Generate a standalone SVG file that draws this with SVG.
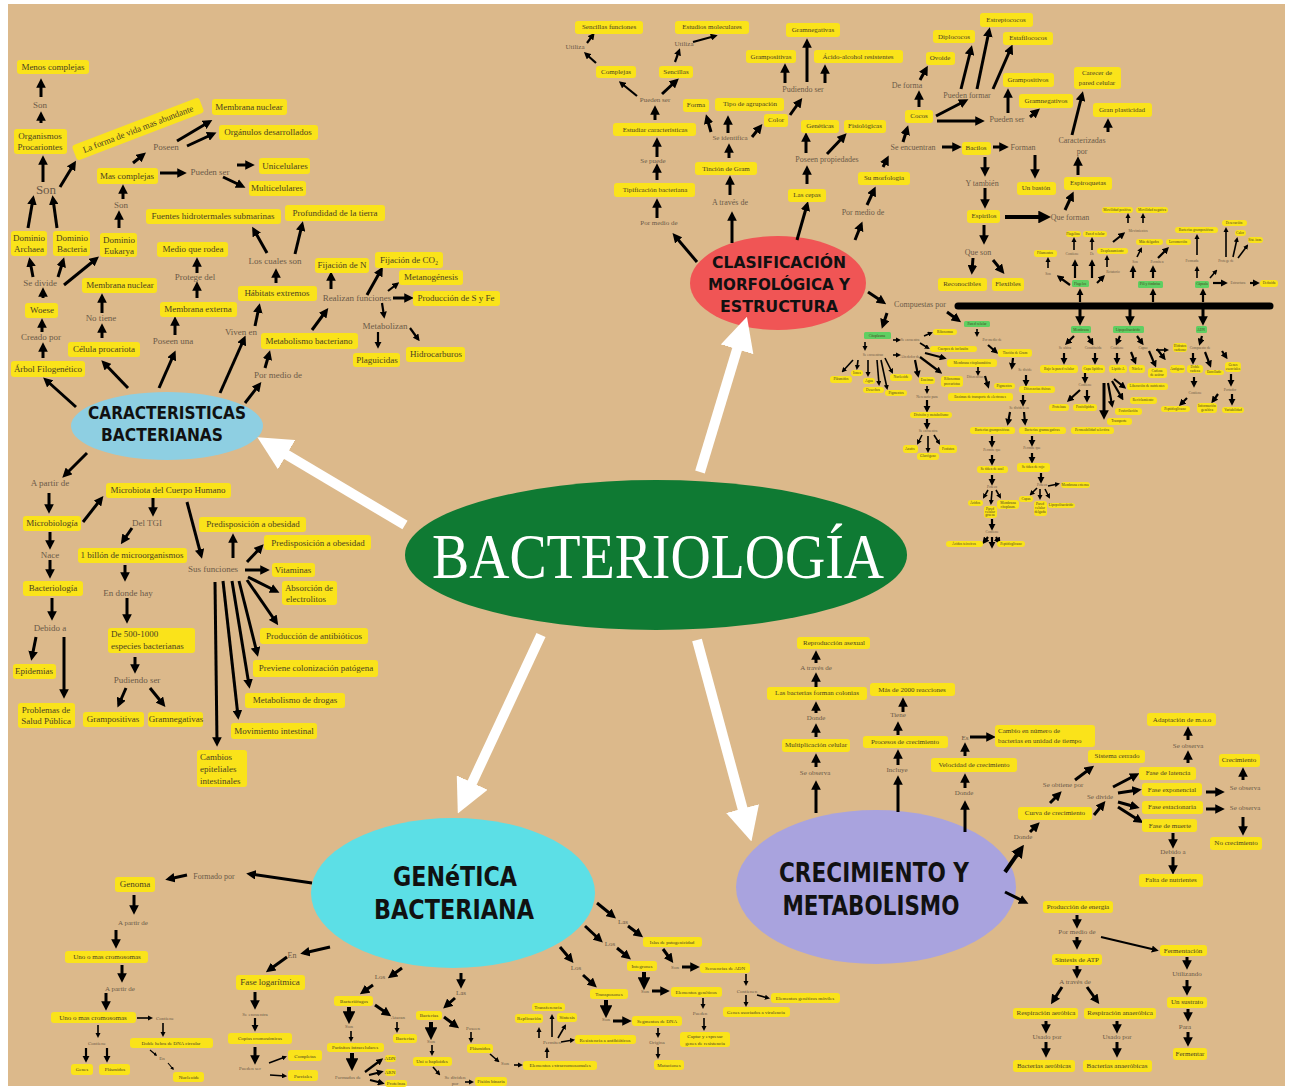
<svg xmlns="http://www.w3.org/2000/svg" width="1289" height="1089" viewBox="0 0 1289 1089">
<defs>
<marker id="ah" viewBox="0 0 10 10" refX="6" refY="5" markerWidth="3.2" markerHeight="3.2" orient="auto" markerUnits="strokeWidth"><path d="M0,0 L10,5 L0,10 z" fill="#000"/></marker>
<marker id="wh" viewBox="0 0 10 10" refX="5" refY="5" markerWidth="34" markerHeight="34" orient="auto" markerUnits="userSpaceOnUse"><path d="M0,0 L10,5 L0,10 z" fill="#fff"/></marker>
<style>
text{font-family:"Liberation Serif","DejaVu Serif",serif;text-anchor:middle;dominant-baseline:central}
.t{fill:#4a3f22}
.l{fill:#6b5a48}
rect.b{fill:#fae31a;rx:3px}
rect.g{fill:#5fcf62;rx:1.5px}
.a1,.a15,.a2,.a3,.a4{stroke:#000;fill:none;marker-end:url(#ah)}
.a1{stroke-width:1.1}
.a15{stroke-width:1.6}
.a2{stroke-width:2.2}
.a3{stroke-width:3}
.a4{stroke-width:4}
.w{stroke:#fff;stroke-width:10;marker-end:url(#wh)}
.hd{font-family:"DejaVu Sans","Liberation Sans",sans-serif;font-weight:bold;fill:#111}
.s9 text{font-size:9px}
.s8 text{font-size:8px}
.s7 text{font-size:7px}
.s6 text{font-size:6px}
.s5 text{font-size:5px}
.s4 text{font-size:3.6px}
.st{text-anchor:start}
</style>
</defs>
<rect width="1289" height="1089" fill="#fff"/>
<rect x="8" y="4" width="1277" height="1082" fill="#dcb98b"/>

<!-- main ellipses -->
<g id="bacteriologia">
<ellipse cx="656" cy="555" rx="251" ry="75" fill="#0f7a33"/>
<text x="658" y="556" font-size="64" fill="#fff" textLength="452" lengthAdjust="spacingAndGlyphs" style="font-family:'Liberation Serif',serif">BACTERIOLOGÍA</text>
</g>
<g id="caracteristicas">
<ellipse cx="167" cy="426" rx="96" ry="34" fill="#8ecfe2"/>
<text class="hd" x="167" y="413" font-size="17" textLength="158" lengthAdjust="spacingAndGlyphs">CARACTERISTICAS</text>
<text class="hd" x="162" y="435" font-size="17" textLength="122" lengthAdjust="spacingAndGlyphs">BACTERIANAS</text>
</g>
<g id="clasificacion">
<ellipse cx="778" cy="283" rx="88" ry="47" fill="#f05555"/>
<text class="hd" x="779" y="263" font-size="15" textLength="134" lengthAdjust="spacingAndGlyphs">CLASIFICACIÓN</text>
<text class="hd" x="779" y="285" font-size="15" textLength="142" lengthAdjust="spacingAndGlyphs">MORFOLÓGICA Y</text>
<text class="hd" x="779" y="307" font-size="15" textLength="118" lengthAdjust="spacingAndGlyphs">ESTRUCTURA</text>
</g>
<g id="genetica">
<ellipse cx="453" cy="893" rx="142" ry="75" fill="#5cdfe6"/>
<text class="hd" x="455" y="877" font-size="26" textLength="124" lengthAdjust="spacingAndGlyphs">GENéTICA</text>
<text class="hd" x="454" y="910" font-size="26" textLength="160" lengthAdjust="spacingAndGlyphs">BACTERIANA</text>
</g>
<g id="crecimiento">
<ellipse cx="876" cy="887" rx="140" ry="77" fill="#a9a3de"/>
<text class="hd" x="874" y="872" font-size="27" textLength="190" lengthAdjust="spacingAndGlyphs">CRECIMIENTO Y</text>
<text class="hd" x="871" y="905" font-size="27" textLength="177" lengthAdjust="spacingAndGlyphs">METABOLISMO</text>
</g>

<!-- connectors -->
<g id="connectors">
<line class="w" x1="405" y1="525" x2="272" y2="446"/>
<line class="w" x1="700" y1="472" x2="742" y2="333"/>
<line class="w" x1="541" y1="635" x2="465" y2="798"/>
<line class="w" x1="697" y1="640" x2="747" y2="825"/>
<!-- caracteristicas -->
<line class="a3" x1="41" y1="123" x2="41" y2="115"/>
<line class="a3" x1="41" y1="97" x2="41" y2="82"/>
<line class="a3" x1="43" y1="182" x2="43" y2="159"/>
<line class="a3" x1="60" y1="187" x2="74" y2="164"/>
<line class="a3" x1="133" y1="163" x2="143" y2="155"/>
<line class="a3" x1="177" y1="141" x2="209" y2="122"/>
<line class="a3" x1="187" y1="146" x2="213" y2="134"/>
<line class="a3" x1="160" y1="173" x2="183" y2="173"/>
<line class="a3" x1="237" y1="165" x2="251" y2="165"/>
<line class="a3" x1="223" y1="177" x2="242" y2="186"/>
<line class="a3" x1="123" y1="199" x2="123" y2="188"/>
<line class="a3" x1="119" y1="228" x2="119" y2="214"/>
<line class="a3" x1="28" y1="228" x2="33" y2="199"/>
<line class="a3" x1="57" y1="228" x2="53" y2="199"/>
<line class="a3" x1="33" y1="277" x2="30" y2="261"/>
<line class="a3" x1="58" y1="277" x2="63" y2="261"/>
<line class="a3" x1="64" y1="285" x2="96" y2="259"/>
<line class="a3" x1="43" y1="298" x2="43" y2="291"/>
<line class="a3" x1="42" y1="332" x2="42" y2="322"/>
<line class="a3" x1="43" y1="358" x2="43" y2="346"/>
<line class="a3" x1="102" y1="313" x2="102" y2="297"/>
<line class="a3" x1="102" y1="338" x2="102" y2="327"/>
<line class="a3" x1="197" y1="273" x2="197" y2="261"/>
<line class="a3" x1="197" y1="298" x2="197" y2="285"/>
<line class="a3" x1="175" y1="335" x2="175" y2="320"/>
<line class="a3" x1="267" y1="253" x2="254" y2="230"/>
<line class="a3" x1="295" y1="254" x2="302" y2="225"/>
<line class="a3" x1="276" y1="283" x2="276" y2="272"/>
<line class="a3" x1="255" y1="326" x2="259" y2="307"/>
<line class="a3" x1="265" y1="368" x2="269" y2="354"/>
<line class="a3" x1="312" y1="330" x2="326" y2="311"/>
<line class="a3" x1="331" y1="289" x2="331" y2="275"/>
<line class="a3" x1="367" y1="295" x2="381" y2="270"/>
<line class="a2" x1="388" y1="291" x2="397" y2="284"/>
<line class="a3" x1="393" y1="298" x2="410" y2="298"/>
<line class="a2" x1="382" y1="303" x2="384" y2="316"/>
<line class="a2" x1="378" y1="332" x2="378" y2="346"/>
<line class="a2" x1="410" y1="328" x2="418" y2="339"/>
<line class="a3" x1="76" y1="407" x2="46" y2="380"/>
<line class="a3" x1="128" y1="388" x2="104" y2="363"/>
<line class="a3" x1="159" y1="388" x2="174" y2="354"/>
<line class="a3" x1="220" y1="393" x2="244" y2="339"/>
<line class="a3" x1="245" y1="403" x2="259" y2="385"/>
<line class="a3" x1="87" y1="453" x2="65" y2="475"/>
<!-- lower left -->
<line class="a3" x1="49" y1="493" x2="49" y2="510"/>
<line class="a3" x1="83" y1="522" x2="101" y2="499"/>
<line class="a3" x1="153" y1="498" x2="153" y2="513"/>
<line class="a3" x1="132" y1="528" x2="123" y2="541"/>
<line class="a3" x1="125" y1="565" x2="125" y2="578"/>
<line class="a3" x1="127" y1="598" x2="127" y2="620"/>
<line class="a3" x1="135" y1="657" x2="135" y2="670"/>
<line class="a3" x1="126" y1="688" x2="119" y2="704"/>
<line class="a3" x1="150" y1="688" x2="163" y2="704"/>
<line class="a3" x1="50" y1="532" x2="50" y2="546"/>
<line class="a3" x1="50" y1="560" x2="50" y2="575"/>
<line class="a3" x1="52" y1="598" x2="52" y2="617"/>
<line class="a3" x1="36" y1="637" x2="32" y2="657"/>
<line class="a3" x1="64" y1="637" x2="64" y2="695"/>
<line class="a3" x1="187" y1="502" x2="201" y2="555"/>
<line class="a3" x1="233" y1="558" x2="233" y2="537"/>
<line class="a3" x1="247" y1="562" x2="261" y2="547"/>
<line class="a3" x1="245" y1="570" x2="266" y2="570"/>
<line class="a3" x1="248" y1="577" x2="276" y2="591"/>
<line class="a3" x1="247" y1="580" x2="276" y2="622"/>
<line class="a3" x1="239" y1="581" x2="257" y2="653"/>
<line class="a3" x1="232" y1="581" x2="249" y2="685"/>
<line class="a3" x1="223" y1="581" x2="238" y2="716"/>
<line class="a3" x1="215" y1="582" x2="217" y2="743"/>
<!-- clasificacion top -->
<line class="a3" x1="697" y1="262" x2="675" y2="236"/>
<line class="a3" x1="657" y1="218" x2="657" y2="202"/>
<line class="a3" x1="657" y1="180" x2="657" y2="167"/>
<line class="a3" x1="657" y1="157" x2="657" y2="141"/>
<line class="a3" x1="655" y1="120" x2="655" y2="109"/>
<line class="a2" x1="637" y1="96" x2="621" y2="83"/>
<line class="a3" x1="662" y1="94" x2="676" y2="81"/>
<line class="a2" x1="596" y1="63" x2="586" y2="54"/>
<line class="a2" x1="587" y1="43" x2="593" y2="35"/>
<line class="a2" x1="675" y1="62" x2="679" y2="51"/>
<line class="a2" x1="693" y1="42" x2="715" y2="36"/>
<line class="a3" x1="732" y1="243" x2="732" y2="215"/>
<line class="a3" x1="730" y1="195" x2="730" y2="179"/>
<line class="a3" x1="729" y1="158" x2="729" y2="147"/>
<line class="a3" x1="711" y1="132" x2="707" y2="118"/>
<line class="a3" x1="728" y1="133" x2="728" y2="119"/>
<line class="a3" x1="752" y1="137" x2="760" y2="127"/>
<line class="a3" x1="790" y1="115" x2="800" y2="101"/>
<line class="a3" x1="785" y1="83" x2="785" y2="67"/>
<line class="a3" x1="807" y1="82" x2="807" y2="42"/>
<line class="a3" x1="825" y1="83" x2="825" y2="68"/>
<line class="a3" x1="797" y1="240" x2="807" y2="205"/>
<line class="a3" x1="807" y1="184" x2="807" y2="169"/>
<line class="a3" x1="806" y1="153" x2="806" y2="136"/>
<line class="a3" x1="827" y1="154" x2="844" y2="136"/>
<line class="a3" x1="855" y1="240" x2="861" y2="225"/>
<line class="a3" x1="867" y1="205" x2="874" y2="190"/>
<line class="a3" x1="883" y1="167" x2="887" y2="159"/>
<line class="a3" x1="903" y1="142" x2="907" y2="129"/>
<line class="a3" x1="919" y1="107" x2="919" y2="94"/>
<line class="a3" x1="920" y1="80" x2="926" y2="69"/>
<line class="a3" x1="936" y1="116" x2="965" y2="101"/>
<line class="a3" x1="961" y1="89" x2="971" y2="49"/>
<line class="a3" x1="977" y1="89" x2="989" y2="31"/>
<line class="a3" x1="993" y1="89" x2="1011" y2="48"/>
<line class="a3" x1="937" y1="121" x2="981" y2="121"/>
<line class="a3" x1="1008" y1="113" x2="1008" y2="92"/>
<line class="a3" x1="1030" y1="117" x2="1037" y2="111"/>
<line class="a3" x1="1072" y1="135" x2="1082" y2="95"/>
<line class="a3" x1="1108" y1="132" x2="1108" y2="122"/>
<line class="a3" x1="1078" y1="175" x2="1078" y2="160"/>
<line class="a3" x1="942" y1="147" x2="958" y2="147"/>
<line class="a3" x1="993" y1="147" x2="1005" y2="147"/>
<line class="a3" x1="1035" y1="155" x2="1035" y2="175"/>
<line class="a3" x1="985" y1="157" x2="985" y2="173"/>
<line class="a3" x1="985" y1="188" x2="985" y2="205"/>
<line class="a4" x1="1005" y1="217" x2="1046" y2="217"/>
<line class="a3" x1="1065" y1="210" x2="1072" y2="195"/>
<line class="a3" x1="984" y1="225" x2="984" y2="241"/>
<line class="a3" x1="973" y1="258" x2="972" y2="271"/>
<line class="a3" x1="993" y1="260" x2="1002" y2="271"/>
<line class="a3" x1="868" y1="292" x2="883" y2="302"/>
<line class="a3" x1="947" y1="312" x2="958" y2="320"/>
<line class="a3" x1="887" y1="313" x2="883" y2="325"/>
<line x1="958" y1="306" x2="1270" y2="306" stroke="#000" stroke-width="7" stroke-linecap="round"/>
<line class="a2" x1="1080" y1="302" x2="1080" y2="291"/>
<line class="a2" x1="1153" y1="302" x2="1153" y2="291"/>
<line class="a2" x1="1203" y1="302" x2="1203" y2="291"/>
<line class="a3" x1="1080" y1="309" x2="1080" y2="322"/>
<line class="a3" x1="1130" y1="309" x2="1130" y2="322"/>
<line class="a3" x1="1203" y1="309" x2="1203" y2="322"/>
<!-- dense above bar -->
<line class="a2" x1="1070" y1="285" x2="1059" y2="277"/>
<line class="a15" x1="1048" y1="268" x2="1048" y2="259"/>
<line class="a2" x1="1075" y1="278" x2="1075" y2="262"/>
<line class="a2" x1="1092" y1="278" x2="1092" y2="262"/>
<line class="a2" x1="1097" y1="283" x2="1103" y2="277"/>
<line class="a15" x1="1074" y1="250" x2="1074" y2="239"/>
<line class="a15" x1="1092" y1="250" x2="1092" y2="239"/>
<line class="a15" x1="1107" y1="267" x2="1107" y2="257"/>
<line class="a2" x1="1113" y1="242" x2="1123" y2="234"/>
<line class="a15" x1="1128" y1="223" x2="1128" y2="215"/>
<line class="a15" x1="1143" y1="223" x2="1143" y2="215"/>
<line class="a2" x1="1133" y1="278" x2="1133" y2="268"/>
<line class="a2" x1="1153" y1="278" x2="1153" y2="268"/>
<line class="a15" x1="1137" y1="257" x2="1141" y2="249"/>
<line class="a2" x1="1158" y1="258" x2="1167" y2="249"/>
<line class="a2" x1="1213" y1="283" x2="1225" y2="283"/>
<line class="a2" x1="1250" y1="283" x2="1257" y2="283"/>
<line class="a15" x1="1197" y1="278" x2="1197" y2="268"/>
<line class="a15" x1="1197" y1="255" x2="1197" y2="236"/>
<line class="a15" x1="1210" y1="278" x2="1216" y2="271"/>
<line class="a15" x1="1226" y1="257" x2="1226" y2="229"/>
<line class="a15" x1="1233" y1="257" x2="1237" y2="239"/>
<line class="a15" x1="1238" y1="258" x2="1247" y2="246"/>
<!-- dense below bar -->
<line class="a15" x1="893" y1="340" x2="899" y2="340"/>
<line class="a15" x1="924" y1="336" x2="931" y2="333"/>
<line class="a15" x1="920" y1="343" x2="928" y2="348"/>
<line class="a15" x1="865" y1="342" x2="865" y2="349"/>
<line class="a15" x1="853" y1="360" x2="843" y2="371"/>
<line class="a15" x1="858" y1="360" x2="857" y2="368"/>
<line class="a15" x1="868" y1="360" x2="868" y2="375"/>
<line class="a15" x1="877" y1="360" x2="879" y2="384"/>
<line class="a15" x1="881" y1="360" x2="887" y2="388"/>
<line class="a15" x1="885" y1="358" x2="892" y2="372"/>
<line class="a15" x1="893" y1="355" x2="899" y2="355"/>
<line class="a2" x1="915" y1="360" x2="918" y2="375"/>
<line class="a2" x1="920" y1="357" x2="940" y2="372"/>
<line class="a2" x1="925" y1="353" x2="944" y2="358"/>
<line class="a15" x1="927" y1="386" x2="927" y2="392"/>
<line class="a2" x1="927" y1="400" x2="927" y2="410"/>
<line class="a2" x1="927" y1="419" x2="927" y2="427"/>
<line class="a15" x1="922" y1="435" x2="918" y2="443"/>
<line class="a15" x1="928" y1="436" x2="928" y2="451"/>
<line class="a15" x1="934" y1="435" x2="939" y2="443"/>
<line class="a15" x1="977" y1="329" x2="977" y2="335"/>
<line class="a2" x1="988" y1="345" x2="996" y2="352"/>
<line class="a15" x1="978" y1="367" x2="978" y2="374"/>
<line class="a2" x1="985" y1="376" x2="988" y2="386"/>
<line class="a2" x1="1013" y1="358" x2="1012" y2="367"/>
<line class="a2" x1="1026" y1="375" x2="1026" y2="384"/>
<line class="a2" x1="1023" y1="395" x2="1023" y2="404"/>
<line class="a2" x1="1010" y1="412" x2="1008" y2="423"/>
<line class="a2" x1="1024" y1="412" x2="1025" y2="423"/>
<line class="a2" x1="992" y1="436" x2="992" y2="445"/>
<line class="a2" x1="992" y1="455" x2="992" y2="463"/>
<line class="a2" x1="992" y1="475" x2="992" y2="483"/>
<line class="a15" x1="988" y1="490" x2="984" y2="497"/>
<line class="a15" x1="992" y1="491" x2="991" y2="503"/>
<line class="a15" x1="996" y1="490" x2="1000" y2="497"/>
<line class="a2" x1="992" y1="519" x2="992" y2="528"/>
<line class="a2" x1="988" y1="537" x2="984" y2="542"/>
<line class="a2" x1="992" y1="537" x2="992" y2="546"/>
<line class="a2" x1="996" y1="537" x2="999" y2="542"/>
<line class="a2" x1="1032" y1="436" x2="1032" y2="444"/>
<line class="a2" x1="1032" y1="453" x2="1032" y2="461"/>
<line class="a2" x1="1041" y1="473" x2="1041" y2="481"/>
<line class="a15" x1="1037" y1="488" x2="1031" y2="494"/>
<line class="a15" x1="1040" y1="489" x2="1040" y2="498"/>
<line class="a15" x1="1045" y1="489" x2="1049" y2="497"/>
<line class="a15" x1="1048" y1="486" x2="1058" y2="484"/>
<line class="a2" x1="1074" y1="336" x2="1067" y2="343"/>
<line class="a2" x1="1088" y1="336" x2="1092" y2="343"/>
<line class="a2" x1="1064" y1="353" x2="1064" y2="362"/>
<line class="a2" x1="1095" y1="353" x2="1095" y2="362"/>
<line class="a2" x1="1085" y1="373" x2="1085" y2="381"/>
<line class="a2" x1="1080" y1="390" x2="1069" y2="400"/>
<line class="a2" x1="1087" y1="390" x2="1087" y2="400"/>
<line class="a3" x1="1104" y1="383" x2="1104" y2="416"/>
<line class="a2" x1="1108" y1="383" x2="1112" y2="405"/>
<line class="a2" x1="1112" y1="381" x2="1122" y2="398"/>
<line class="a2" x1="1114" y1="379" x2="1124" y2="387"/>
<line class="a2" x1="1120" y1="336" x2="1117" y2="343"/>
<line class="a2" x1="1137" y1="336" x2="1142" y2="343"/>
<line class="a2" x1="1117" y1="353" x2="1117" y2="362"/>
<line class="a2" x1="1131" y1="352" x2="1135" y2="362"/>
<line class="a2" x1="1149" y1="351" x2="1155" y2="365"/>
<line class="a15" x1="1156" y1="350" x2="1167" y2="350"/>
<line class="a2" x1="1157" y1="349" x2="1164" y2="358"/>
<line class="a2" x1="1202" y1="336" x2="1200" y2="343"/>
<line class="a2" x1="1193" y1="353" x2="1193" y2="362"/>
<line class="a2" x1="1205" y1="352" x2="1210" y2="365"/>
<line class="a2" x1="1222" y1="351" x2="1226" y2="357"/>
<line class="a2" x1="1194" y1="377" x2="1194" y2="385"/>
<line class="a2" x1="1187" y1="398" x2="1181" y2="404"/>
<line class="a2" x1="1231" y1="374" x2="1231" y2="384"/>
<line class="a2" x1="1218" y1="394" x2="1213" y2="401"/>
<line class="a2" x1="1232" y1="394" x2="1232" y2="403"/>
<!-- crecimiento -->
<line class="a3" x1="816" y1="663" x2="816" y2="654"/>
<line class="a3" x1="816" y1="687" x2="816" y2="676"/>
<line class="a3" x1="816" y1="713" x2="816" y2="705"/>
<line class="a3" x1="816" y1="737" x2="816" y2="727"/>
<line class="a3" x1="816" y1="767" x2="816" y2="757"/>
<line class="a3" x1="816" y1="813" x2="816" y2="784"/>
<line class="a3" x1="903" y1="712" x2="903" y2="701"/>
<line class="a3" x1="898" y1="735" x2="898" y2="725"/>
<line class="a3" x1="898" y1="765" x2="898" y2="753"/>
<line class="a3" x1="898" y1="812" x2="898" y2="779"/>
<line class="a3" x1="965" y1="756" x2="965" y2="746"/>
<line class="a3" x1="970" y1="737" x2="992" y2="737"/>
<line class="a3" x1="965" y1="788" x2="965" y2="777"/>
<line class="a3" x1="965" y1="832" x2="965" y2="804"/>
<line class="a4" x1="1005" y1="872" x2="1021" y2="849"/>
<line class="a3" x1="1030" y1="832" x2="1037" y2="825"/>
<line class="a3" x1="1050" y1="803" x2="1059" y2="794"/>
<line class="a3" x1="1075" y1="780" x2="1091" y2="768"/>
<line class="a3" x1="1094" y1="815" x2="1103" y2="804"/>
<line class="a3" x1="1113" y1="787" x2="1136" y2="775"/>
<line class="a3" x1="1118" y1="793" x2="1138" y2="790"/>
<line class="a3" x1="1118" y1="802" x2="1136" y2="807"/>
<line class="a3" x1="1118" y1="807" x2="1140" y2="821"/>
<line class="a3" x1="1188" y1="763" x2="1188" y2="754"/>
<line class="a3" x1="1188" y1="740" x2="1188" y2="730"/>
<line class="a3" x1="1206" y1="792" x2="1221" y2="792"/>
<line class="a3" x1="1243" y1="780" x2="1243" y2="771"/>
<line class="a3" x1="1206" y1="809" x2="1221" y2="809"/>
<line class="a3" x1="1243" y1="817" x2="1243" y2="832"/>
<line class="a3" x1="1173" y1="833" x2="1173" y2="845"/>
<line class="a3" x1="1173" y1="857" x2="1173" y2="871"/>
<line class="a3" x1="1005" y1="892" x2="1025" y2="902"/>
<line class="a3" x1="1077" y1="915" x2="1077" y2="925"/>
<line class="a3" x1="1077" y1="937" x2="1077" y2="946"/>
<line class="a2" x1="1101" y1="937" x2="1156" y2="950"/>
<line class="a3" x1="1077" y1="966" x2="1077" y2="975"/>
<line class="a3" x1="1062" y1="987" x2="1053" y2="1001"/>
<line class="a3" x1="1087" y1="987" x2="1097" y2="1001"/>
<line class="a3" x1="1046" y1="1021" x2="1046" y2="1030"/>
<line class="a3" x1="1046" y1="1042" x2="1046" y2="1054"/>
<line class="a3" x1="1117" y1="1021" x2="1117" y2="1030"/>
<line class="a3" x1="1117" y1="1042" x2="1117" y2="1054"/>
<line class="a3" x1="1187" y1="957" x2="1187" y2="966"/>
<line class="a3" x1="1187" y1="980" x2="1187" y2="992"/>
<line class="a3" x1="1188" y1="1009" x2="1188" y2="1018"/>
<line class="a3" x1="1188" y1="1032" x2="1188" y2="1043"/>
<!-- genetica -->
<line class="a3" x1="312" y1="883" x2="250" y2="874"/>
<line class="a3" x1="187" y1="875" x2="169" y2="879"/>
<line class="a3" x1="134" y1="895" x2="134" y2="911"/>
<line class="a3" x1="116" y1="930" x2="116" y2="945"/>
<line class="a3" x1="122" y1="965" x2="122" y2="979"/>
<line class="a3" x1="106" y1="993" x2="106" y2="1007"/>
<line class="a15" x1="137" y1="1018" x2="151" y2="1018"/>
<line class="a15" x1="163" y1="1023" x2="163" y2="1035"/>
<line class="a1" x1="150" y1="1050" x2="156" y2="1055"/>
<line class="a1" x1="168" y1="1063" x2="173" y2="1069"/>
<line class="a15" x1="98" y1="1025" x2="98" y2="1036"/>
<line class="a2" x1="86" y1="1048" x2="86" y2="1060"/>
<line class="a2" x1="107" y1="1048" x2="107" y2="1060"/>
<line class="a3" x1="330" y1="947" x2="304" y2="953"/>
<line class="a3" x1="287" y1="957" x2="269" y2="970"/>
<line class="a3" x1="255" y1="992" x2="255" y2="1006"/>
<line class="a2" x1="255" y1="1018" x2="255" y2="1029"/>
<line class="a3" x1="255" y1="1047" x2="255" y2="1061"/>
<line class="a15" x1="269" y1="1063" x2="285" y2="1057"/>
<line class="a15" x1="270" y1="1075" x2="285" y2="1076"/>
<line class="a3" x1="402" y1="968" x2="391" y2="976"/>
<line class="a3" x1="373" y1="985" x2="363" y2="992"/>
<line class="a4" x1="349" y1="1007" x2="349" y2="1019"/>
<line class="a15" x1="351" y1="1031" x2="351" y2="1040"/>
<line class="a3" x1="375" y1="1005" x2="388" y2="1014"/>
<line class="a15" x1="397" y1="1022" x2="397" y2="1031"/>
<line class="a4" x1="352" y1="1053" x2="352" y2="1066"/>
<line class="a2" x1="365" y1="1072" x2="381" y2="1060"/>
<line class="a2" x1="369" y1="1075" x2="381" y2="1072"/>
<line class="a2" x1="370" y1="1080" x2="382" y2="1083"/>
<line class="a3" x1="461" y1="973" x2="461" y2="985"/>
<line class="a3" x1="455" y1="998" x2="446" y2="1006"/>
<line class="a4" x1="431" y1="1022" x2="431" y2="1035"/>
<line class="a15" x1="432" y1="1045" x2="432" y2="1054"/>
<line class="a15" x1="433" y1="1067" x2="439" y2="1074"/>
<line class="a15" x1="465" y1="1082" x2="472" y2="1082"/>
<line class="a3" x1="444" y1="1017" x2="456" y2="1026"/>
<line class="a15" x1="471" y1="1032" x2="471" y2="1041"/>
<line class="a15" x1="490" y1="1054" x2="498" y2="1061"/>
<line class="a15" x1="514" y1="1065" x2="521" y2="1065"/>
<line class="a15" x1="547" y1="1058" x2="547" y2="1049"/>
<line class="a15" x1="539" y1="1038" x2="539" y2="1029"/>
<line class="a15" x1="552" y1="1037" x2="552" y2="1016"/>
<line class="a15" x1="558" y1="1038" x2="565" y2="1026"/>
<line class="a15" x1="561" y1="1042" x2="573" y2="1040"/>
<line class="a3" x1="560" y1="947" x2="571" y2="960"/>
<line class="a3" x1="583" y1="975" x2="594" y2="985"/>
<line class="a4" x1="606" y1="1000" x2="606" y2="1013"/>
<line class="a3" x1="613" y1="1021" x2="628" y2="1021"/>
<line class="a15" x1="658" y1="1028" x2="658" y2="1036"/>
<line class="a15" x1="658" y1="1047" x2="658" y2="1057"/>
<line class="a3" x1="585" y1="926" x2="600" y2="940"/>
<line class="a3" x1="617" y1="948" x2="628" y2="957"/>
<line class="a4" x1="644" y1="972" x2="644" y2="985"/>
<line class="a3" x1="652" y1="991" x2="666" y2="991"/>
<line class="a15" x1="703" y1="998" x2="703" y2="1007"/>
<line class="a15" x1="704" y1="1018" x2="704" y2="1029"/>
<line class="a3" x1="597" y1="903" x2="613" y2="916"/>
<line class="a3" x1="628" y1="926" x2="640" y2="935"/>
<line class="a3" x1="663" y1="949" x2="671" y2="960"/>
<line class="a3" x1="682" y1="967" x2="696" y2="967"/>
<line class="a15" x1="746" y1="974" x2="746" y2="984"/>
<line class="a15" x1="746" y1="995" x2="746" y2="1005"/>
<line class="a15" x1="757" y1="995" x2="768" y2="998"/>
</g>

<!-- CARACTERISTICAS nodes -->
<g class="s9">
<g id="c_menos"><rect class="b" x="17" y="60" width="72" height="14"/><text class="t" x="53" y="67">Menos complejas</text></g>
<g id="c_son1"><text class="l" x="40" y="105">Son</text></g>
<g id="c_org"><rect class="b" x="14" y="129" width="53" height="25"/><text class="t" x="40" y="136">Organismos</text><text class="t" x="40" y="147">Procariontes</text></g>
<g id="c_forma" transform="rotate(-21 138 129)"><rect class="b" x="70" y="121" width="136" height="16"/><text class="t" x="138" y="129">La forma de vida mas abundante</text></g>
<g id="c_son2"><text class="l" x="46" y="189" style="font-size:13px">Son</text></g>
<g id="c_poseen"><text class="l" x="166" y="147">Poseen</text></g>
<g id="c_memnuc1"><rect class="b" x="212" y="99" width="75" height="16"/><text class="t" x="249" y="107">Membrana nuclear</text></g>
<g id="c_organ"><rect class="b" x="219" y="125" width="99" height="15"/><text class="t" x="268" y="132">Orgánulos desarrollados</text></g>
<g id="c_mas"><rect class="b" x="97" y="168" width="61" height="16"/><text class="t" x="127" y="176">Mas complejas</text></g>
<g id="c_pueden"><text class="l" x="210" y="172">Pueden ser</text></g>
<g id="c_uni"><rect class="b" x="259" y="158" width="51" height="16"/><text class="t" x="285" y="166">Unicelulares</text></g>
<g id="c_multi"><rect class="b" x="249" y="181" width="57" height="15"/><text class="t" x="277" y="188">Multicelulares</text></g>
<g id="c_son3"><text class="l" x="121" y="205">Son</text></g>
<g id="c_arch"><rect class="b" x="11" y="231" width="36" height="25"/><text class="t" x="29" y="238">Dominio</text><text class="t" x="29" y="249">Archaea</text></g>
<g id="c_bact"><rect class="b" x="53" y="231" width="37" height="25"/><text class="t" x="72" y="238">Dominio</text><text class="t" x="72" y="249">Bacteria</text></g>
<g id="c_euk"><rect class="b" x="100" y="233" width="37" height="24"/><text class="t" x="119" y="240">Dominio</text><text class="t" x="119" y="251">Eukarya</text></g>
<g id="c_sedivide"><text class="l" x="40" y="283">Se divide</text></g>
<g id="c_woese"><rect class="b" x="25" y="303" width="33" height="15"/><text class="t" x="42" y="310">Woese</text></g>
<g id="c_creado"><text class="l" x="41" y="337">Creado por</text></g>
<g id="c_arbol"><rect class="b" x="11" y="361" width="74" height="16"/><text class="t" x="48" y="369">Árbol Filogenético</text></g>
<g id="c_memnuc2"><rect class="b" x="82" y="278" width="75" height="15"/><text class="t" x="120" y="285">Membrana nuclear</text></g>
<g id="c_notiene"><text class="l" x="101" y="318">No tiene</text></g>
<g id="c_celula"><rect class="b" x="68" y="342" width="72" height="15"/><text class="t" x="104" y="349">Célula procariota</text></g>
<g id="c_medio"><rect class="b" x="157" y="242" width="71" height="15"/><text class="t" x="193" y="249">Medio que rodea</text></g>
<g id="c_protege"><text class="l" x="195" y="277">Protege del</text></g>
<g id="c_memext"><rect class="b" x="160" y="302" width="77" height="15"/><text class="t" x="198" y="309">Membrana externa</text></g>
<g id="c_poseenuna"><text class="l" x="173" y="341">Poseen una</text></g>
<g id="c_fuentes"><rect class="b" x="146" y="209" width="135" height="15"/><text class="t" x="213" y="216">Fuentes hidrotermales submarinas</text></g>
<g id="c_prof"><rect class="b" x="285" y="205" width="100" height="16"/><text class="t" x="335" y="213">Profundidad de la tierra</text></g>
<g id="c_loscuales"><text class="l" x="275" y="261">Los cuales son</text></g>
<g id="c_habit"><rect class="b" x="238" y="286" width="79" height="15"/><text class="t" x="277" y="293">Hábitats extremos</text></g>
<g id="c_viven"><text class="l" x="241" y="332">Viven en</text></g>
<g id="c_metab"><rect class="b" x="261" y="333" width="97" height="16"/><text class="t" x="309" y="341">Metabolismo bacteriano</text></g>
<g id="c_pormedio"><text class="l" x="278" y="375">Por medio de</text></g>
<g id="c_realizan"><text class="l" x="357" y="298">Realizan funciones</text></g>
<g id="c_fijN"><rect class="b" x="315" y="258" width="54" height="15"/><text class="t" x="342" y="265">Fijación de N</text></g>
<g id="c_fijC"><rect class="b" x="375" y="252" width="68" height="16"/><text class="t" x="409" y="260">Fijación de CO₂</text></g>
<g id="c_metan"><rect class="b" x="399" y="270" width="64" height="15"/><text class="t" x="431" y="277">Metanogénesis</text></g>
<g id="c_prod"><rect class="b" x="413" y="291" width="87" height="15"/><text class="t" x="456" y="298">Producción de S y Fe</text></g>
<g id="c_metaboliz"><text class="l" x="385" y="326">Metabolizan</text></g>
<g id="c_plag"><rect class="b" x="353" y="353" width="47" height="14"/><text class="t" x="377" y="360">Plaguicidas</text></g>
<g id="c_hidro"><rect class="b" x="406" y="347" width="59" height="15"/><text class="t" x="436" y="354">Hidrocarburos</text></g>
<!-- lower left -->
<g id="m_apartir"><text class="l" x="50" y="483">A partir de</text></g>
<g id="m_microbio"><rect class="b" x="23" y="516" width="58" height="15"/><text class="t" x="52" y="523">Microbiología</text></g>
<g id="m_microbiota"><rect class="b" x="106" y="483" width="125" height="15"/><text class="t" x="168" y="490">Microbiota del Cuerpo Humano</text></g>
<g id="m_tgi"><text class="l" x="147" y="523">Del TGI</text></g>
<g id="m_billon"><rect class="b" x="78" y="548" width="109" height="15"/><text class="t" x="132" y="555">1 billón de microorganismos</text></g>
<g id="m_endonde"><text class="l" x="128" y="593">En donde hay</text></g>
<g id="m_especies"><rect class="b" x="108" y="628" width="87" height="25"/><text class="t st" x="111" y="634">De 500-1000</text><text class="t st" x="111" y="646">especies bacterianas</text></g>
<g id="m_pudiendo"><text class="l" x="137" y="680">Pudiendo ser</text></g>
<g id="m_grampos"><rect class="b" x="83" y="712" width="61" height="15"/><text class="t" x="113" y="719">Grampositivas</text></g>
<g id="m_gramneg"><rect class="b" x="148" y="712" width="55" height="15"/><text class="t" x="176" y="719">Gramnegativas</text></g>
<g id="m_nace"><text class="l" x="50" y="555">Nace</text></g>
<g id="m_bacterio"><rect class="b" x="23" y="581" width="60" height="15"/><text class="t" x="53" y="588">Bacteriología</text></g>
<g id="m_debido"><text class="l" x="50" y="628">Debido a</text></g>
<g id="m_epid"><rect class="b" x="13" y="664" width="43" height="15"/><text class="t" x="34" y="671">Epidemias</text></g>
<g id="m_probl"><rect class="b" x="18" y="703" width="57" height="25"/><text class="t" x="46" y="710">Problemas de</text><text class="t" x="46" y="721">Salud Pública</text></g>
<g id="m_sus"><text class="l" x="213" y="569">Sus funciones</text></g>
<g id="m_pred1"><rect class="b" x="199" y="517" width="107" height="15"/><text class="t" x="253" y="524">Predisposición a obesidad</text></g>
<g id="m_pred2"><rect class="b" x="264" y="535" width="107" height="15"/><text class="t" x="318" y="543">Predisposición a obesidad</text></g>
<g id="m_vit"><rect class="b" x="272" y="563" width="43" height="14"/><text class="t" x="293" y="570">Vitaminas</text></g>
<g id="m_abs"><rect class="b" x="282" y="581" width="55" height="24"/><text class="t" x="309" y="588">Absorción de</text><text class="t" x="306" y="599">electrolitos</text></g>
<g id="m_antib"><rect class="b" x="260" y="628" width="108" height="16"/><text class="t" x="314" y="636">Producción de antibióticos</text></g>
<g id="m_prev"><rect class="b" x="253" y="660" width="125" height="17"/><text class="t" x="316" y="668">Previene colonización patógena</text></g>
<g id="m_drog"><rect class="b" x="245" y="693" width="100" height="15"/><text class="t" x="295" y="700">Metabolismo de drogas</text></g>
<g id="m_mov"><rect class="b" x="231" y="723" width="86" height="16"/><text class="t" x="274" y="731">Movimiento intestinal</text></g>
<g id="m_camb"><rect class="b" x="197" y="750" width="50" height="37"/><text class="t st" x="200" y="757">Cambios</text><text class="t st" x="200" y="769">epiteliales</text><text class="t st" x="200" y="781">intestinales</text></g>
</g>

<!-- CLASIFICACION nodes -->
<g class="s7">
<g id="k_sencf"><rect class="b" x="575" y="21" width="68" height="13"/><text class="t" x="609" y="27">Sencillas funciones</text></g>
<g id="k_util1"><text class="l" x="575" y="47">Utiliza</text></g>
<g id="k_estmol"><rect class="b" x="675" y="21" width="74" height="13"/><text class="t" x="712" y="27">Estudios moleculares</text></g>
<g id="k_util2"><text class="l" x="684" y="44">Utiliza</text></g>
<g id="k_compl"><rect class="b" x="596" y="66" width="40" height="12"/><text class="t" x="616" y="72">Complejas</text></g>
<g id="k_senc"><rect class="b" x="659" y="66" width="34" height="12"/><text class="t" x="676" y="72">Sencillas</text></g>
<g id="k_pueden"><text class="l" x="655" y="100">Pueden ser</text></g>
<g id="k_estud"><rect class="b" x="613" y="123" width="83" height="13"/><text class="t" x="655" y="130">Estudiar características</text></g>
<g id="k_sepuede"><text class="l" x="653" y="161">Se puede</text></g>
<g id="k_tipif"><rect class="b" x="614" y="183" width="81" height="14"/><text class="t" x="655" y="190">Tipificación bacteriana</text></g>
<g id="k_pormedio1"><text class="l" x="659" y="223">Por medio de</text></g>
<g id="k_forma"><rect class="b" x="683" y="99" width="26" height="13"/><text class="t" x="696" y="105">Forma</text></g>
<g id="k_tipo"><rect class="b" x="715" y="98" width="69" height="13"/><text class="t" x="750" y="104">Tipo de agrupación</text></g>
<g id="k_color"><rect class="b" x="764" y="114" width="24" height="13"/><text class="t" x="776" y="120">Color</text></g>
<g id="k_seident"><text class="l" x="730" y="138">Se identifica</text></g>
<g id="k_tincion"><rect class="b" x="695" y="162" width="62" height="13"/><text class="t" x="726" y="169">Tinción de Gram</text></g>
<g id="k_atraves"><text class="l" x="730" y="202" style="font-size:8px">A través de</text></g>
<g id="k_grampos"><rect class="b" x="746" y="50" width="50" height="13"/><text class="t" x="771" y="57">Grampositivas</text></g>
<g id="k_gramneg"><rect class="b" x="786" y="23" width="54" height="14"/><text class="t" x="813" y="30">Gramnegativas</text></g>
<g id="k_acido"><rect class="b" x="814" y="50" width="89" height="13"/><text class="t" x="858" y="57">Ácido-alcohol resistentes</text></g>
<g id="k_pudiendo"><text class="l" x="803" y="89" style="font-size:8px">Pudiendo ser</text></g>
<g id="k_genet"><rect class="b" x="801" y="120" width="38" height="13"/><text class="t" x="820" y="126">Genéticas</text></g>
<g id="k_fisio"><rect class="b" x="844" y="120" width="42" height="13"/><text class="t" x="865" y="126">Fisiológicas</text></g>
<g id="k_poseen"><text class="l" x="827" y="159" style="font-size:8px">Poseen propiedades</text></g>
<g id="k_cepas"><rect class="b" x="788" y="189" width="38" height="13"/><text class="t" x="807" y="195">Las cepas</text></g>
<g id="k_morf"><rect class="b" x="858" y="172" width="52" height="13"/><text class="t" x="884" y="178">Su morfología</text></g>
<g id="k_pormedio2"><text class="l" x="863" y="212" style="font-size:8px">Por medio de</text></g>
<g id="k_seencu"><text class="l" x="913" y="147" style="font-size:8px">Se encuentran</text></g>
<g id="k_estrep"><rect class="b" x="980" y="13" width="53" height="14"/><text class="t" x="1006" y="20">Estreptococos</text></g>
<g id="k_diplo"><rect class="b" x="933" y="30" width="42" height="13"/><text class="t" x="954" y="37">Diplococos</text></g>
<g id="k_estaf"><rect class="b" x="1003" y="32" width="50" height="13"/><text class="t" x="1028" y="38">Estafilococos</text></g>
<g id="k_ovoide"><rect class="b" x="926" y="52" width="29" height="13"/><text class="t" x="940" y="58">Ovoide</text></g>
<g id="k_deforma"><text class="l" x="907" y="85" style="font-size:8px">De forma</text></g>
<g id="k_cocos"><rect class="b" x="905" y="110" width="28" height="13"/><text class="t" x="919" y="116">Cocos</text></g>
<g id="k_pformar"><text class="l" x="967" y="95" style="font-size:8px">Pueden formar</text></g>
<g id="k_pser"><text class="l" x="1007" y="119" style="font-size:8px">Pueden ser</text></g>
<g id="k_grampos2"><rect class="b" x="1003" y="73" width="51" height="14"/><text class="t" x="1028" y="80">Grampositivos</text></g>
<g id="k_gramneg2"><rect class="b" x="1019" y="94" width="54" height="14"/><text class="t" x="1046" y="101">Gramnegativos</text></g>
<g id="k_carecer"><rect class="b" x="1074" y="67" width="47" height="22"/><text class="t" x="1097" y="73">Carecer de</text><text class="t" x="1097" y="83">pared celular</text></g>
<g id="k_plast"><rect class="b" x="1093" y="103" width="59" height="14"/><text class="t" x="1122" y="110">Gran plasticidad</text></g>
<g id="k_caract"><text class="l" x="1082" y="140" style="font-size:8px">Caracterizadas</text><text class="l" x="1082" y="151" style="font-size:8px">por</text></g>
<g id="k_espiroq"><rect class="b" x="1064" y="177" width="48" height="13"/><text class="t" x="1088" y="183">Espiroquetas</text></g>
<g id="k_bacilos"><rect class="b" x="962" y="142" width="29" height="13"/><text class="t" x="976" y="148">Bacilos</text></g>
<g id="k_forman"><text class="l" x="1023" y="147" style="font-size:8px">Forman</text></g>
<g id="k_baston"><rect class="b" x="1017" y="182" width="39" height="13"/><text class="t" x="1036" y="188">Un bastón</text></g>
<g id="k_ytambien"><text class="l" x="982" y="183" style="font-size:8px">Y también</text></g>
<g id="k_espir"><rect class="b" x="967" y="210" width="33" height="13"/><text class="t" x="984" y="216">Espirilos</text></g>
<g id="k_queforman"><text class="l" x="1070" y="217" style="font-size:8px">Que forman</text></g>
<g id="k_queson"><text class="l" x="978" y="252" style="font-size:8px">Que son</text></g>
<g id="k_recon"><rect class="b" x="938" y="278" width="49" height="13"/><text class="t" x="962" y="284">Reconocibles</text></g>
<g id="k_flex"><rect class="b" x="992" y="278" width="32" height="13"/><text class="t" x="1008" y="284">Flexibles</text></g>
<g id="k_compuestas"><text class="l" x="920" y="304" style="font-size:8px">Compuestas por</text></g>
</g>

<!-- dense structure nodes -->
<g class="s4">
<g id="d_flag"><rect class="g" x="1072" y="280" width="17" height="7"/><text class="t" x="1080" y="284">Flagelos</text></g>
<g id="d_pili"><rect class="g" x="1138" y="281" width="25" height="7"/><text class="t" x="1150" y="284">Pili y fimbrias</text></g>
<g id="d_caps"><rect class="g" x="1195" y="281" width="14" height="7"/><text class="t" x="1202" y="284">Cápsula</text></g>
<g id="d_pared"><rect class="g" x="964" y="321" width="26" height="6"/><text class="t" x="977" y="324">Pared celular</text></g>
<g id="d_cito"><rect class="g" x="864" y="332" width="27" height="7"/><text class="t" x="877" y="336">Citoplasma</text></g>
<g id="d_memb"><rect class="g" x="1071" y="326" width="20" height="7"/><text class="t" x="1081" y="330">Membrana</text></g>
<g id="d_lipo"><rect class="g" x="1113" y="326" width="31" height="7"/><text class="t" x="1128" y="330">Lipopolisacárido</text></g>
<g id="d_adn"><rect class="g" x="1196" y="326" width="11" height="7"/><text class="t" x="1201" y="330">ADN</text></g>
<g id="d_fil"><rect class="b" x="1034" y="250" width="23" height="7"/><text class="t" x="1045" y="253">Filamentos</text></g>
<g id="d_son1"><text class="l" x="1048" y="274">Son</text></g>
<g id="d_cont1"><text class="l" x="1072" y="254">Contiene</text></g>
<g id="d_de1"><text class="l" x="1092" y="254">De</text></g>
<g id="d_flagelina"><rect class="b" x="1066" y="231" width="15" height="6"/><text class="t" x="1073" y="234">Flagelina</text></g>
<g id="d_pared2"><rect class="b" x="1083" y="231" width="24" height="6"/><text class="t" x="1095" y="234">Pared celular</text></g>
<g id="d_despl"><rect class="b" x="1097" y="248" width="31" height="6"/><text class="t" x="1112" y="251">Desplazamiento</text></g>
<g id="d_rot"><text class="l" x="1113" y="272">Rotatorio</text></g>
<g id="d_movs"><text class="l" x="1138" y="231">Movimientos</text></g>
<g id="d_movp"><rect class="b" x="1102" y="207" width="31" height="6"/><text class="t" x="1117" y="210">Movilidad positiva</text></g>
<g id="d_movn"><rect class="b" x="1136" y="207" width="32" height="6"/><text class="t" x="1152" y="210">Movilidad negativa</text></g>
<g id="d_son2"><text class="l" x="1135" y="262">Son</text></g>
<g id="d_perm"><text class="l" x="1157" y="262">Permiten</text></g>
<g id="d_delg"><rect class="b" x="1136" y="239" width="27" height="6"/><text class="t" x="1149" y="242">Más delgados</text></g>
<g id="d_locom"><rect class="b" x="1166" y="239" width="25" height="6"/><text class="t" x="1178" y="242">Locomoción</text></g>
<g id="d_formada"><text class="l" x="1192" y="261">Formada</text></g>
<g id="d_protege"><text class="l" x="1226" y="261">Protege de</text></g>
<g id="d_bgram"><rect class="b" x="1175" y="227" width="43" height="6"/><text class="t" x="1196" y="230">Bacterias grampositivas</text></g>
<g id="d_desec"><rect class="b" x="1222" y="220" width="25" height="6"/><text class="t" x="1234" y="223">Desecación</text></g>
<g id="d_calor"><rect class="b" x="1235" y="230" width="11" height="6"/><text class="t" x="1240" y="233">Calor</text></g>
<g id="d_sist"><rect class="b" x="1248" y="237" width="15" height="6"/><text class="t" x="1255" y="240">Sist. inm.</text></g>
<g id="d_estruct"><text class="l" x="1238" y="283">Estructura</text></g>
<g id="d_def"><rect class="b" x="1260" y="280" width="18" height="7"/><text class="t" x="1269" y="283">Definida</text></g>
<g id="d_seenc1"><text class="l" x="910" y="340">Se encuentra</text></g>
<g id="d_ribo"><rect class="b" x="933" y="329" width="24" height="6"/><text class="t" x="945" y="332">Ribosomas</text></g>
<g id="d_incl"><rect class="b" x="930" y="346" width="47" height="6"/><text class="t" x="953" y="349">Cuerpos de inclusión</text></g>
<g id="d_seenc2"><text class="l" x="873" y="355">Se encuentran</text></g>
<g id="d_plasm"><rect class="b" x="830" y="376" width="22" height="7"/><text class="t" x="841" y="379">Plásmidos</text></g>
<g id="d_iones"><rect class="b" x="851" y="370" width="12" height="6"/><text class="t" x="857" y="373">Iones</text></g>
<g id="d_agua"><rect class="b" x="863" y="378" width="12" height="6"/><text class="t" x="869" y="381">Agua</text></g>
<g id="d_desech"><rect class="b" x="863" y="387" width="21" height="6"/><text class="t" x="873" y="390">Desechos</text></g>
<g id="d_pigm"><rect class="b" x="885" y="390" width="22" height="6"/><text class="t" x="896" y="393">Pigmentos</text></g>
<g id="d_nucl"><rect class="b" x="890" y="374" width="22" height="7"/><text class="t" x="901" y="377">Nucleoide</text></g>
<g id="d_alred"><text class="l" x="910" y="357">Alrededor de</text></g>
<g id="d_enz"><rect class="b" x="919" y="377" width="16" height="7"/><text class="t" x="927" y="380">Enzimas</text></g>
<g id="d_ribo2"><rect class="b" x="941" y="376" width="22" height="11"/><text class="t" x="952" y="379">Ribosomas</text><text class="t" x="952" y="384">procariotas</text></g>
<g id="d_neces"><text class="l" x="927" y="397">Necesario para</text></g>
<g id="d_divis"><rect class="b" x="910" y="412" width="42" height="6"/><text class="t" x="931" y="415">División y metabolismo</text></g>
<g id="d_seenc3"><text class="l" x="928" y="431">Se encuentra</text></g>
<g id="d_azufre"><rect class="b" x="903" y="445" width="15" height="8"/><text class="t" x="910" y="449">Azufre</text></g>
<g id="d_gluc"><rect class="b" x="917" y="453" width="22" height="7"/><text class="t" x="928" y="456">Glucógeno</text></g>
<g id="d_fosf"><rect class="b" x="939" y="445" width="18" height="8"/><text class="t" x="948" y="449">Fosfatos</text></g>
<g id="d_membc"><rect class="b" x="947" y="359" width="50" height="8"/><text class="t" x="972" y="363">Membrana citoplasmática</text></g>
<g id="d_enzt"><rect class="b" x="948" y="393" width="65" height="8"/><text class="t" x="980" y="397">Enzimas de transporte de electrones</text></g>
<g id="d_pigm2"><rect class="b" x="994" y="383" width="21" height="6"/><text class="t" x="1004" y="386">Pigmentos</text></g>
<g id="d_pormed"><text class="l" x="992" y="340">Por medio de</text></g>
<g id="d_tinc"><rect class="b" x="998" y="349" width="34" height="8"/><text class="t" x="1015" y="353">Tinción de Gram</text></g>
<g id="d_sediv"><text class="l" x="1025" y="370">Se divide</text></g>
<g id="d_difer"><text class="l" x="975" y="377">Diferencias</text></g>
<g id="d_diff"><rect class="b" x="1019" y="386" width="36" height="7"/><text class="t" x="1037" y="389">Diferencias físicas</text></g>
<g id="d_sedivid"><text class="l" x="1019" y="408">Se dividen en</text></g>
<g id="d_bgp"><rect class="b" x="970" y="427" width="45" height="7"/><text class="t" x="992" y="430">Bacterias grampositivas</text></g>
<g id="d_bgn"><rect class="b" x="1019" y="427" width="47" height="7"/><text class="t" x="1042" y="430">Bacterias gramnegativas</text></g>
<g id="d_perms"><rect class="b" x="1071" y="427" width="43" height="7"/><text class="t" x="1092" y="430">Permeabilidad selectiva</text></g>
<g id="d_seubica"><text class="l" x="1065" y="348">Se ubica</text></g>
<g id="d_const"><text class="l" x="1093" y="348">Constituida</text></g>
<g id="d_bajo"><rect class="b" x="1040" y="365" width="38" height="8"/><text class="t" x="1059" y="369">Bajo la pared celular</text></g>
<g id="d_capa"><rect class="b" x="1082" y="365" width="23" height="8"/><text class="t" x="1093" y="369">Capa lipídica</text></g>
<g id="d_cont2"><text class="l" x="1085" y="385">Contiene</text></g>
<g id="d_prot"><rect class="b" x="1049" y="404" width="20" height="7"/><text class="t" x="1059" y="407">Proteínas</text></g>
<g id="d_fosfol"><rect class="b" x="1073" y="404" width="24" height="7"/><text class="t" x="1085" y="407">Fosfolípidos</text></g>
<g id="d_liber"><rect class="b" x="1127" y="383" width="41" height="7"/><text class="t" x="1147" y="386">Liberación de nutrientes</text></g>
<g id="d_recic"><rect class="b" x="1130" y="397" width="27" height="7"/><text class="t" x="1143" y="400">Reciclamiento</text></g>
<g id="d_fosfor"><rect class="b" x="1115" y="408" width="27" height="7"/><text class="t" x="1128" y="411">Fosforilación</text></g>
<g id="d_transp"><rect class="b" x="1107" y="418" width="25" height="7"/><text class="t" x="1119" y="421">Transporte</text></g>
<g id="d_cont3"><text class="l" x="1117" y="348">Contiene</text></g>
<g id="d_capaz"><text class="l" x="1143" y="348">Capaz</text></g>
<g id="d_lipa"><rect class="b" x="1109" y="365" width="18" height="8"/><text class="t" x="1118" y="369">Lípido A</text></g>
<g id="d_nucleo"><rect class="b" x="1129" y="365" width="16" height="8"/><text class="t" x="1137" y="369">Núcleo</text></g>
<g id="d_cadena"><rect class="b" x="1148" y="368" width="19" height="10"/><text class="t" x="1157" y="371">Cadena</text><text class="t" x="1157" y="375">de azúcar</text></g>
<g id="d_antig"><rect class="b" x="1170" y="365" width="15" height="8"/><text class="t" x="1177" y="369">Antígeno</text></g>
<g id="d_hidr"><rect class="b" x="1173" y="343" width="14" height="9"/><text class="t" x="1180" y="346">Hidratos</text><text class="t" x="1180" y="350">carbono</text></g>
<g id="d_comp"><text class="l" x="1200" y="348">Compuesto de</text></g>
<g id="d_dobc"><rect class="b" x="1187" y="365" width="16" height="8"/><text class="t" x="1195" y="367">Doble</text><text class="t" x="1195" y="371">cadena</text></g>
<g id="d_enroll"><rect class="b" x="1205" y="370" width="19" height="5"/><text class="t" x="1214" y="372">Enrollado</text></g>
<g id="d_geness"><rect class="b" x="1225" y="362" width="16" height="10"/><text class="t" x="1233" y="365">Genes</text><text class="t" x="1233" y="369">esenciales</text></g>
<g id="d_cont4"><text class="l" x="1195" y="393">Contiene</text></g>
<g id="d_port"><text class="l" x="1230" y="390">Portador</text></g>
<g id="d_info"><rect class="b" x="1161" y="406" width="29" height="6"/><text class="t" x="1175" y="409">Peptidoglicano</text></g>
<g id="d_infog"><rect class="b" x="1197" y="403" width="20" height="10"/><text class="t" x="1207" y="406">Información</text><text class="t" x="1207" y="410">genética</text></g>
<g id="d_varia"><rect class="b" x="1222" y="407" width="22" height="6"/><text class="t" x="1233" y="410">Variabilidad</text></g>
<g id="d_permq1"><text class="l" x="992" y="450">Permite que</text></g>
<g id="d_azul"><rect class="b" x="977" y="466" width="31" height="7"/><text class="t" x="992" y="469">Se tiñen de azul</text></g>
<g id="d_poseen1"><text class="l" x="992" y="487">Poseen</text></g>
<g id="d_acid"><rect class="b" x="968" y="500" width="15" height="6"/><text class="t" x="975" y="503">Ácidos</text></g>
<g id="d_membc2"><rect class="b" x="997" y="500" width="22" height="9"/><text class="t" x="1008" y="503">Membrana</text><text class="t" x="1008" y="507">citoplasm.</text></g>
<g id="d_gruesa"><rect class="b" x="984" y="506" width="13" height="12"/><text class="t" x="990" y="509">Pared</text><text class="t" x="990" y="512">celular</text><text class="t" x="990" y="515">gruesa</text></g>
<g id="d_cont5"><text class="l" x="992" y="532">Contiene</text></g>
<g id="d_teic"><rect class="b" x="946" y="541" width="37" height="6"/><text class="t" x="964" y="544">Ácidos teicoicos</text></g>
<g id="d_pept"><rect class="b" x="997" y="541" width="28" height="6"/><text class="t" x="1011" y="544">Peptidoglicano</text></g>
<g id="d_permq2"><text class="l" x="1032" y="448">Permite que</text></g>
<g id="d_rojo"><rect class="b" x="1017" y="463" width="33" height="9"/><text class="t" x="1033" y="467">Se tiñen de rojo</text></g>
<g id="d_poseen2"><text class="l" x="1042" y="485">Poseen</text></g>
<g id="d_capas"><rect class="b" x="1019" y="496" width="14" height="6"/><text class="t" x="1026" y="499">Capas</text></g>
<g id="d_delgada"><rect class="b" x="1034" y="501" width="13" height="15"/><text class="t" x="1040" y="504">Pared</text><text class="t" x="1040" y="508">celular</text><text class="t" x="1040" y="512">delgada</text></g>
<g id="d_lps"><rect class="b" x="1048" y="503" width="27" height="5"/><text class="t" x="1061" y="505">Lipopolisacárido</text></g>
<g id="d_mext"><rect class="b" x="1061" y="482" width="29" height="6"/><text class="t" x="1075" y="485">Membrana externa</text></g>
</g>

<!-- CRECIMIENTO nodes -->
<g class="s7">
<g id="g_repro"><rect class="b" x="797" y="637" width="73" height="12"/><text class="t" x="834" y="643">Reproducción asexual</text></g>
<g id="g_atraves1"><text class="l" x="816" y="668">A través de</text></g>
<g id="g_colon"><rect class="b" x="767" y="687" width="100" height="13"/><text class="t" x="817" y="693">Las bacterias forman colonias</text></g>
<g id="g_donde1"><text class="l" x="816" y="718">Donde</text></g>
<g id="g_multi"><rect class="b" x="782" y="739" width="68" height="13"/><text class="t" x="816" y="745">Multiplicación celular</text></g>
<g id="g_seobs1"><text class="l" x="815" y="773">Se observa</text></g>
<g id="g_2000"><rect class="b" x="870" y="683" width="85" height="13"/><text class="t" x="912" y="690">Más de 2000 reacciones</text></g>
<g id="g_tiene"><text class="l" x="898" y="715">Tiene</text></g>
<g id="g_proc"><rect class="b" x="863" y="736" width="85" height="12"/><text class="t" x="905" y="742">Procesos de crecimiento</text></g>
<g id="g_incluye"><text class="l" x="897" y="770">Incluye</text></g>
<g id="g_veloc"><rect class="b" x="931" y="758" width="86" height="14"/><text class="t" x="974" y="765">Velocidad de crecimiento</text></g>
<g id="g_es"><text class="l" x="965" y="738">Es</text></g>
<g id="g_cambio"><rect class="b" x="995" y="725" width="100" height="22"/><text class="t st" x="998" y="731">Cambio en número de</text><text class="t st" x="998" y="741">bacterias en unidad de tiempo</text></g>
<g id="g_donde2"><text class="l" x="964" y="793">Donde</text></g>
<g id="g_curva"><rect class="b" x="1018" y="807" width="74" height="13"/><text class="t" x="1055" y="813">Curva de crecimiento</text></g>
<g id="g_donde3"><text class="l" x="1023" y="837">Donde</text></g>
<g id="g_seobt"><text class="l" x="1063" y="785">Se obtiene por</text></g>
<g id="g_sist"><rect class="b" x="1088" y="750" width="57" height="13"/><text class="t" x="1117" y="756">Sistema cerrado</text></g>
<g id="g_sediv"><text class="l" x="1100" y="797">Se divide</text></g>
<g id="g_lat"><rect class="b" x="1139" y="767" width="57" height="13"/><text class="t" x="1168" y="773">Fase de latencia</text></g>
<g id="g_exp"><rect class="b" x="1142" y="783" width="60" height="13"/><text class="t" x="1172" y="790">Fase exponencial</text></g>
<g id="g_est"><rect class="b" x="1142" y="801" width="61" height="13"/><text class="t" x="1172" y="807">Fase estacionaria</text></g>
<g id="g_muer"><rect class="b" x="1142" y="819" width="55" height="13"/><text class="t" x="1170" y="826">Fase de muerte</text></g>
<g id="g_seobs2"><text class="l" x="1188" y="746">Se observa</text></g>
<g id="g_adap"><rect class="b" x="1147" y="713" width="69" height="13"/><text class="t" x="1182" y="720">Adaptación de m.o.o</text></g>
<g id="g_seobs3"><text class="l" x="1245" y="788">Se observa</text></g>
<g id="g_crec"><rect class="b" x="1219" y="754" width="41" height="13"/><text class="t" x="1239" y="760">Crecimiento</text></g>
<g id="g_seobs4"><text class="l" x="1245" y="808">Se observa</text></g>
<g id="g_nocrec"><rect class="b" x="1210" y="837" width="52" height="13"/><text class="t" x="1236" y="843">No crecimiento</text></g>
<g id="g_debido"><text class="l" x="1173" y="852">Debido a</text></g>
<g id="g_falta"><rect class="b" x="1139" y="874" width="64" height="13"/><text class="t" x="1171" y="880">Falta de nutrientes</text></g>
<g id="g_prod"><rect class="b" x="1043" y="901" width="70" height="12"/><text class="t" x="1078" y="907">Producción de energía</text></g>
<g id="g_pormedio"><text class="l" x="1077" y="932">Por medio de</text></g>
<g id="g_atp"><rect class="b" x="1052" y="954" width="50" height="11"/><text class="t" x="1077" y="960">Síntesis de ATP</text></g>
<g id="g_atraves2"><text class="l" x="1075" y="982">A través de</text></g>
<g id="g_aer"><rect class="b" x="1013" y="1008" width="65" height="11"/><text class="t" x="1046" y="1013">Respiración aeróbica</text></g>
<g id="g_anaer"><rect class="b" x="1084" y="1008" width="72" height="11"/><text class="t" x="1120" y="1013">Respiración anaeróbica</text></g>
<g id="g_usado1"><text class="l" x="1047" y="1037">Usado por</text></g>
<g id="g_usado2"><text class="l" x="1117" y="1037">Usado por</text></g>
<g id="g_baer"><rect class="b" x="1013" y="1060" width="62" height="12"/><text class="t" x="1044" y="1066">Bacterias aeróbicas</text></g>
<g id="g_banaer"><rect class="b" x="1083" y="1060" width="69" height="12"/><text class="t" x="1117" y="1066">Bacterias anaeróbicas</text></g>
<g id="g_ferm"><rect class="b" x="1160" y="945" width="47" height="11"/><text class="t" x="1183" y="951">Fermentación</text></g>
<g id="g_utiliz"><text class="l" x="1187" y="974">Utilizando</text></g>
<g id="g_sustr"><rect class="b" x="1167" y="997" width="40" height="11"/><text class="t" x="1187" y="1002">Un sustrato</text></g>
<g id="g_para"><text class="l" x="1185" y="1027">Para</text></g>
<g id="g_fermr"><rect class="b" x="1173" y="1048" width="34" height="12"/><text class="t" x="1190" y="1054">Fermentar</text></g>
</g>

<!-- GENETICA nodes -->
<g class="s7">
<g id="e_genoma"><rect class="b" x="115" y="877" width="40" height="15"/><text class="t" x="135" y="884" style="font-size:9px">Genoma</text></g>
<g id="e_formado"><text class="l" x="214" y="876" style="font-size:8px">Formado por</text></g>
<g id="e_apartir1"><text class="l" x="133" y="923">A partir de</text></g>
<g id="e_uno1"><rect class="b" x="65" y="951" width="83" height="12"/><text class="t" x="107" y="957">Uno o mas cromosomas</text></g>
<g id="e_apartir2"><text class="l" x="120" y="989">A partir de</text></g>
<g id="e_uno2"><rect class="b" x="51" y="1012" width="85" height="11"/><text class="t" x="93" y="1018">Uno o mas cromosomas</text></g>
<g id="e_fase"><rect class="b" x="236" y="975" width="69" height="15"/><text class="t" x="270" y="982" style="font-size:9px">Fase logarítmica</text></g>
<g id="e_en1"><text class="l" x="292" y="955" style="font-size:8px">En</text></g>
</g>
<g class="s5">
<g id="e_cont1"><text class="l" x="165" y="1018">Contiene</text></g>
<g id="e_doble"><rect class="b" x="130" y="1038" width="83" height="10"/><text class="t" x="171" y="1043">Doble hebra de DNA circular</text></g>
<g id="e_en2"><text class="l" x="162" y="1058">En</text></g>
<g id="e_nucl"><rect class="b" x="173" y="1072" width="31" height="10"/><text class="t" x="189" y="1077">Nucleoide</text></g>
<g id="e_cont2"><text class="l" x="97" y="1043">Contiene</text></g>
<g id="e_genes"><rect class="b" x="71" y="1064" width="22" height="11"/><text class="t" x="82" y="1069">Genes</text></g>
<g id="e_plasm"><rect class="b" x="99" y="1064" width="31" height="11"/><text class="t" x="115" y="1069">Plásmidos</text></g>
<g id="e_seenc"><text class="l" x="255" y="1014">Se encuentra</text></g>
<g id="e_copias"><rect class="b" x="228" y="1033" width="64" height="11"/><text class="t" x="260" y="1038">Copias cromosómicas</text></g>
<g id="e_pueden"><text class="l" x="250" y="1068">Pueden ser</text></g>
<g id="e_compl"><rect class="b" x="288" y="1050" width="34" height="11"/><text class="t" x="305" y="1056">Completas</text></g>
<g id="e_parc"><rect class="b" x="288" y="1070" width="30" height="11"/><text class="t" x="303" y="1076">Parciales</text></g>
<g id="e_los1"><text class="l" x="380" y="977" style="font-size:7px">Los</text></g>
<g id="e_bacteriof"><rect class="b" x="334" y="996" width="39" height="10"/><text class="t" x="354" y="1001">Bacteriófagos</text></g>
<g id="e_son1"><text class="l" x="349" y="1026">Son</text></g>
<g id="e_atacan"><text class="l" x="398" y="1017">Atacan</text></g>
<g id="e_bact1"><rect class="b" x="393" y="1034" width="24" height="9"/><text class="t" x="405" y="1038">Bacterias</text></g>
<g id="e_paras"><rect class="b" x="327" y="1043" width="57" height="9"/><text class="t" x="355" y="1047">Parásitos intracelulares</text></g>
<g id="e_formados"><text class="l" x="348" y="1077">Formados de</text></g>
<g id="e_adn"><rect class="b" x="385" y="1055" width="11" height="7"/><text class="t" x="390" y="1058">ADN</text></g>
<g id="e_arn"><rect class="b" x="385" y="1069" width="11" height="7"/><text class="t" x="390" y="1072">ARN</text></g>
<g id="e_prot"><rect class="b" x="385" y="1080" width="22" height="7"/><text class="t" x="396" y="1083">Proteínas</text></g>
<g id="e_las1"><text class="l" x="461" y="993" style="font-size:7px">Las</text></g>
<g id="e_bact2"><rect class="b" x="416" y="1011" width="26" height="9"/><text class="t" x="429" y="1015">Bacterias</text></g>
<g id="e_son2"><text class="l" x="431" y="1041">Son</text></g>
<g id="e_uni"><rect class="b" x="413" y="1057" width="39" height="9"/><text class="t" x="432" y="1061">Uni o haploides</text></g>
<g id="e_sediv"><text class="l" x="455" y="1077">Se dividen</text><text class="l" x="455" y="1083">por</text></g>
<g id="e_fision"><rect class="b" x="475" y="1077" width="32" height="9"/><text class="t" x="491" y="1081">Fisión binaria</text></g>
<g id="e_poseen"><text class="l" x="473" y="1028">Poseen</text></g>
<g id="e_plasm2"><rect class="b" x="467" y="1044" width="26" height="9"/><text class="t" x="480" y="1048">Plásmidos</text></g>
<g id="e_son3"><text class="l" x="505" y="1063">Son</text></g>
<g id="e_elem"><rect class="b" x="523" y="1061" width="74" height="9"/><text class="t" x="560" y="1065">Elementos extracromosomales</text></g>
<g id="e_permiten"><text class="l" x="552" y="1042">Permiten</text></g>
<g id="e_repl"><rect class="b" x="515" y="1014" width="28" height="9"/><text class="t" x="529" y="1018">Replicación</text></g>
<g id="e_transf"><rect class="b" x="532" y="1003" width="33" height="8"/><text class="t" x="548" y="1007">Transferencia</text></g>
<g id="e_sint"><rect class="b" x="557" y="1013" width="20" height="9"/><text class="t" x="567" y="1017">Síntesis</text></g>
<g id="e_resist"><rect class="b" x="575" y="1035" width="61" height="9"/><text class="t" x="605" y="1040">Resistencia a antibióticos</text></g>
<g id="e_los2"><text class="l" x="576" y="968" style="font-size:7px">Los</text></g>
<g id="e_transp"><rect class="b" x="590" y="989" width="38" height="10"/><text class="t" x="609" y="994">Transposones</text></g>
<g id="e_son4"><text class="l" x="606" y="1019">Son</text></g>
<g id="e_segm"><rect class="b" x="632" y="1016" width="50" height="10"/><text class="t" x="657" y="1021">Segmentos de DNA</text></g>
<g id="e_origina"><text class="l" x="657" y="1042">Origina</text></g>
<g id="e_mut"><rect class="b" x="654" y="1060" width="30" height="10"/><text class="t" x="669" y="1065">Mutaciones</text></g>
<g id="e_los3"><text class="l" x="610" y="944" style="font-size:7px">Los</text></g>
<g id="e_integ"><rect class="b" x="627" y="961" width="30" height="10"/><text class="t" x="642" y="966">Integrones</text></g>
<g id="e_son5"><text class="l" x="645" y="991">Son</text></g>
<g id="e_elemgen"><rect class="b" x="671" y="987" width="51" height="10"/><text class="t" x="696" y="992">Elementos genéticos</text></g>
<g id="e_pueden2"><text class="l" x="700" y="1013">Pueden</text></g>
<g id="e_captar"><rect class="b" x="680" y="1032" width="50" height="15"/><text class="t" x="705" y="1036">Captar y expresar</text><text class="t" x="705" y="1043">genes de resistencia</text></g>
<g id="e_las2"><text class="l" x="623" y="922" style="font-size:7px">Las</text></g>
<g id="e_islas"><rect class="b" x="643" y="937" width="59" height="10"/><text class="t" x="672" y="942">Islas de patogenicidad</text></g>
<g id="e_son6"><text class="l" x="675" y="967">Son</text></g>
<g id="e_secu"><rect class="b" x="700" y="963" width="50" height="10"/><text class="t" x="725" y="968">Secuencias de ADN</text></g>
<g id="e_conten"><text class="l" x="747" y="991">Contienen</text></g>
<g id="e_genesas"><rect class="b" x="723" y="1007" width="67" height="10"/><text class="t" x="756" y="1012">Genes asociados a virulencia</text></g>
<g id="e_elemmov"><rect class="b" x="771" y="993" width="69" height="10"/><text class="t" x="805" y="998">Elementos genéticos móviles</text></g>
</g>
</svg>
